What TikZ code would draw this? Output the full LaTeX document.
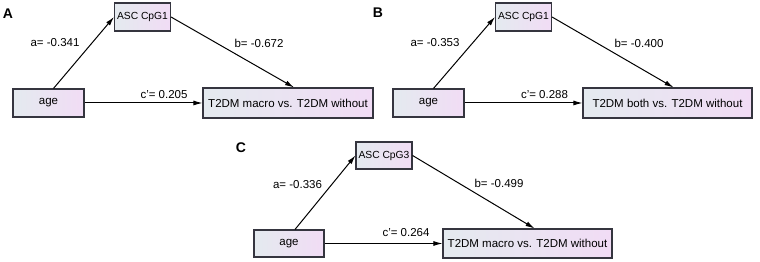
\documentclass[tikz,border=0pt]{standalone}
\usepackage{fontspec}
\setmainfont{Liberation Sans}
\usepackage{tikz}
\usetikzlibrary{arrows.meta,positioning,calc}
\usepackage{xcolor}
\definecolor{boxL}{HTML}{E4EAEF}
\definecolor{boxR}{HTML}{F1DCF5}
\definecolor{boxEdge}{HTML}{35353F}

\begin{document}
\begin{tikzpicture}[x=1pt, y=1pt, >={Latex[length=9pt,width=5pt]},
    every node/.style={font=\fontsize{11.5}{13}\selectfont},
    varbox/.style={draw=boxEdge, line width=1.1pt, left color=boxL, right color=boxR, inner sep=0pt, minimum height=28pt},
    medbox/.style={varbox, minimum width=56pt, font=\fontsize{10.3}{12}\selectfont},
    panel/.style={font=\fontsize{14}{16}\selectfont\bfseries}]
    \useasboundingbox (0,0) rectangle (760,262);
    % panel A
    \node[panel] (pA) at (8,248) {A};
    \node[medbox] (ascA) at (142.5,245) {ASC CpG1};
    \node[varbox, minimum width=71pt] (ageA) at (48.5,159) {age};
    \node[varbox, minimum width=170pt, minimum height=30pt] (outA) at (288,159) {T2DM macro vs. T2DM without};
    \draw[->, line width=1pt] ([xshift=5pt]ageA.north) -- (ascA.west);
    \draw[->, line width=1pt] (ascA.east) -- ([xshift=6pt]outA.north);
    \draw[->, line width=1pt] (ageA) -- (outA);
    \node (aA) at (55,219) {a= -0.341};
    \node (bA) at (259,219) {b= -0.672};
    \node (cA) at (164,167) {c'= 0.205};
    % panel B
    \node[panel] (pB) at (378,249) {B};
    \node[medbox] (ascB) at (523.5,245) {ASC CpG1};
    \node[varbox, minimum width=71pt] (ageB) at (428.5,159) {age};
    \node[varbox, minimum width=169pt, minimum height=30pt] (outB) at (667.5,159) {T2DM both vs. T2DM without};
    \draw[->, line width=1pt] ([xshift=5pt]ageB.north) -- (ascB.west);
    \draw[->, line width=1pt] (ascB.east) -- ([xshift=6pt]outB.north);
    \draw[->, line width=1pt] (ageB) -- (outB);
    \node (aB) at (435,219) {a= -0.353};
    \node (bB) at (639,219) {b= -0.400};
    \node (cB) at (544.5,167) {c'= 0.288};
    % panel C
    \node[panel] (pC) at (241,114) {C};
    \node[medbox, minimum height=27pt] (ascC) at (384,106.5) {ASC CpG3};
    \node[varbox, minimum width=70pt, minimum height=27pt] (ageC) at (289,18.5) {age};
    \node[varbox, minimum width=169pt, minimum height=29pt] (outC) at (527.5,18.5) {T2DM macro vs. T2DM without};
    \draw[->, line width=1pt] ([xshift=6pt]ageC.north) -- (ascC.west);
    \draw[->, line width=1pt] (ascC.east) -- ([xshift=7pt]outC.north);
    \draw[->, line width=1pt] (ageC) -- (outC);
    \node (aC) at (297.5,77) {a= -0.336};
    \node (bC) at (499,79) {b= -0.499};
    \node (cC) at (406,29) {c'= 0.264};
\end{tikzpicture}
\end{document}
